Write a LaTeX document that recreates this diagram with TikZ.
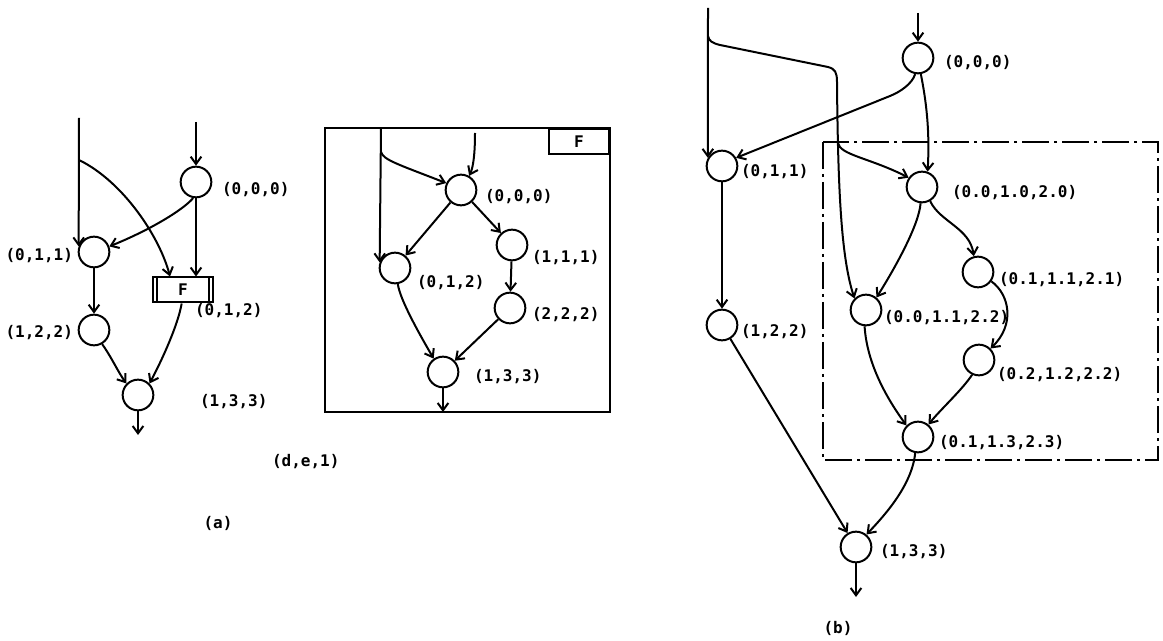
\documentclass[tikz,border=0pt]{standalone}
\usepackage{fontspec}
\setmonofont{DejaVu Sans Mono}
\usetikzlibrary{arrows.meta}

\tikzset{every picture/.style={line width=1.5pt}}
\tikzset{
	st/.style={draw,circle,minimum size=23pt,inner sep=0pt},
	lbl/.style={inner sep=0.75pt,font=\ttfamily\bfseries\fontsize{12}{14}\selectfont},
	arr/.style={-{Straight Barb[length=5.5pt,width=8pt]}},
}

\begin{document}
\begin{tikzpicture}[x=0.75pt,y=0.75pt,yscale=-1,xscale=1]
				\useasboundingbox (0,0) rectangle (1163,641);
				
				%%%%%%%% (a) net with the F transition
				%Shape: Circle 
				\node (a000) [st] at (196,182) {};
				\node (a011) [st] at (94,252) {};
				\node (a122) [st] at (94,330) {};
				\node (a133) [st] at (138,395) {};
				%Shape: Rectangle 
				\node (aF) [lbl,draw,minimum width=45pt,minimum height=18.75pt,inner sep=0pt] at (183,290) {F};
				\draw ([xshift=3.5pt]aF.north west) -- ([xshift=3.5pt]aF.south west) ;
				\draw ([xshift=-3.5pt]aF.north east) -- ([xshift=-3.5pt]aF.south east) ;
				\coordinate (ain1) at (79,118);
				\coordinate (ain2) at (196,122);
				\coordinate (abr) at (79,160);
				\coordinate (aout) at (138,435);
				
				%Straight Lines 
				\draw [arr] (ain1) -- (a011.160) ;
				\draw [arr] (ain2) -- (a000) ;
				\draw [arr] (a000) -- (a000 |- aF.north) ;
				\draw [arr] (a011) -- (a122) ;
				\draw [arr] (a133) -- (aout) ;
				%Curve Lines 
				\draw [arr] (abr) .. controls (124,182) and (160,238) .. ([xshift=-9.75pt]aF.north) ;
				\draw [arr] (a000.-100) .. controls (183,210) and (150,230) .. (a011.20) ;
				\draw [arr] (a122.-60) .. controls (112,358) and (118,372) .. (a133.135) ;
				\draw [arr] ([xshift=-1pt]aF.south) .. controls (178,325) and (162,360) .. (a133.45) ;
				
				% Text Node
				\node (la000) [lbl,anchor=west] at (220,190) {(0,0,0)};
				\node (la011) [lbl,anchor=east] at (75,256) {(0,1,1)};
				\node (la122) [lbl,anchor=east] at (75,333) {(1,2,2)};
				\node (la012) [lbl,anchor=west] at (193,311) {(0,1,2)};
				\node (la133) [lbl,anchor=west] at (198,402) {(1,3,3)};
				\node (lade1) [lbl,anchor=west] at (270,462) {(d,e,1)};
				\node (lcapa) [lbl] at (218,523) {(a)};
				
				%%%%%%%% (a) the subnet F
				%Shape: Rectangle 
				\draw (325,128) rectangle (610,412) ;
				\node (fname) [lbl,draw,anchor=north east,minimum width=45pt,minimum height=18.75pt,inner sep=0pt] at (610,128) {F};
				%Shape: Circle 
				\node (f000) [st] at (461,190) {};
				\node (f012) [st] at (395,268) {};
				\node (f111) [st] at (512,245) {};
				\node (f222) [st] at (510,308) {};
				\node (f133) [st] at (443,372) {};
				\coordinate (fin1) at (381,128);
				\coordinate (fin2) at (475,133);
				\coordinate (fbr) at (381,152);
				\coordinate (fout) at (443,412);
				
				%Straight Lines 
				\draw [arr] (fin1) -- (f012.160) ;
				\draw [arr] (fin2) .. controls (475,160) and (472,170) .. (f000.60) ;
				\draw [arr] (f000) -- (f012) ;
				\draw [arr] (f000) -- (f111) ;
				\draw [arr] (f111) -- (f222) ;
				\draw [arr] (f222) -- (f133) ;
				\draw [arr] (f133) -- (fout) ;
				%Curve Lines 
				\draw [arr] (fbr) .. controls (383,160) and (400,165) .. (f000.155) ;
				\draw [arr] (f012.-80) .. controls (400,300) and (420,335) .. (f133.125) ;
				
				% Text Node
				\node (lf000) [lbl,anchor=west] at (483,197) {(0,0,0)};
				\node (lf111) [lbl,anchor=west] at (530,258) {(1,1,1)};
				\node (lf012) [lbl,anchor=west] at (415,283) {(0,1,2)};
				\node (lf222) [lbl,anchor=west] at (530,315) {(2,2,2)};
				\node (lf133) [lbl,anchor=west] at (472,377) {(1,3,3)};
				
				%%%%%%%% (b) unfolded net
				%Shape: Rectangle 
				\draw [dash pattern={on 20pt off 4pt on 2pt off 4pt}] (823,142) rectangle (1158,460) ;
				%Shape: Circle 
				\node (g000) [st] at (918,58) {};
				\node (g011) [st] at (722,166) {};
				\node (g122) [st] at (722,325) {};
				\node (gA) [st] at (922,187) {};
				\node (gB) [st] at (978,272) {};
				\node (gC) [st] at (866,310) {};
				\node (gD) [st] at (979,360) {};
				\node (gE) [st] at (918,437) {};
				\node (g133) [st] at (856,547) {};
				\coordinate (gin1) at (708,8);
				\coordinate (gin2) at (918,13);
				\coordinate (gbr) at (708,36);
				\coordinate (gbr2) at (838,143);
				\coordinate (gout) at (856,597);
				
				%Straight Lines 
				\draw [arr] (gin1) -- (g011.150) ;
				\draw [arr] (gin2) -- (g000) ;
				\draw [arr] (g011) -- (g122) ;
				\draw [arr] (g122) -- (g133) ;
				\draw [arr] (g133) -- (gout) ;
				%Curve Lines 
				\draw [arr] (gbr) .. controls (709,41) and (712,43) .. (720,45) -- (828,67) .. controls (835,69) and (837,72) .. (837,82) .. controls (838,200) and (842,260) .. (gC.135) ;
				\draw [arr] (gbr2) .. controls (840,155) and (870,158) .. (gA.145) ;
				\draw [arr] (g000.-100) .. controls (912,84) and (900,92) .. (890,96) -- (g011.30) ;
				\draw [arr] (g000.-80) .. controls (926,100) and (930,130) .. (gA.70) ;
				\draw [arr] (gA.-95) .. controls (919,225) and (895,268) .. (gC.50) ;
				\draw [arr] (gA.-60) .. controls (940,222) and (970,228) .. (gB.105) ;
				\draw [arr] (gB.-35) .. controls (1010,295) and (1015,325) .. (gD.45) ;
				\draw [arr] (gC.-95) .. controls (867,365) and (888,400) .. (gE.135) ;
				\draw [arr] (gD.-115) .. controls (962,390) and (940,410) .. (gE.50) ;
				\draw [arr] (gE.-100) .. controls (912,485) and (885,515) .. (g133.50) ;
				
				% Text Node
				\node (lg000) [lbl,anchor=west] at (942,63) {(0,0,0)};
				\node (lg011) [lbl,anchor=west] at (739,172) {(0,1,1)};
				\node (lgA) [lbl,anchor=west] at (950,193) {(0.0,1.0,2.0)};
				\node (lgB) [lbl,anchor=west] at (997,280) {(0.1,1.1,2.1)};
				\node (lgC) [lbl,anchor=west] at (882,318) {(0.0,1.1,2.2)};
				\node (lg122) [lbl,anchor=west] at (739,332) {(1,2,2)};
				\node (lgD) [lbl,anchor=west] at (995,375) {(0.2,1.2,2.2)};
				\node (lgE) [lbl,anchor=west] at (937,443) {(0.1,1.3,2.3)};
				\node (lg133) [lbl,anchor=west] at (878,552) {(1,3,3)};
				\node (lcapb) [lbl] at (838,628) {(b)};
				
\end{tikzpicture}
\end{document}
